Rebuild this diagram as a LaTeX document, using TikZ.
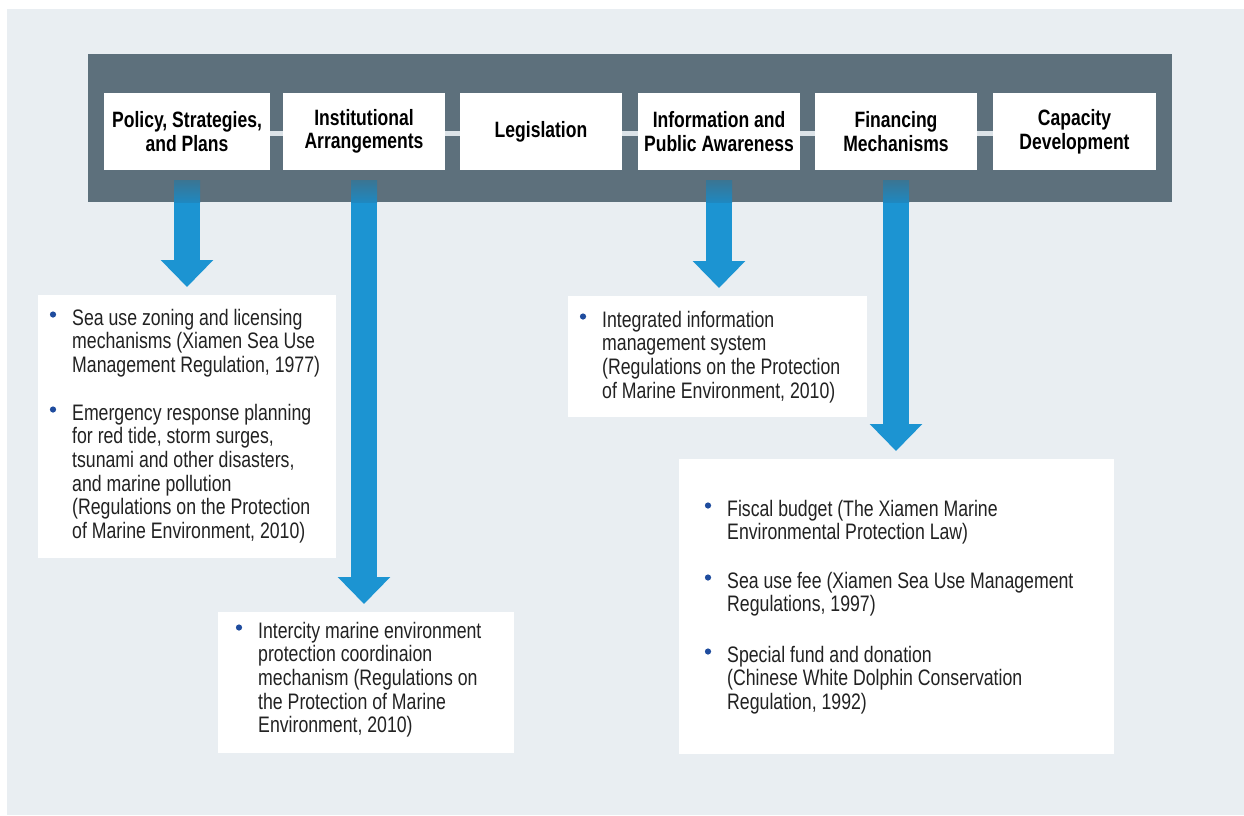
\documentclass[tikz,border=0pt]{standalone}
\usepackage{fontspec}
\setmainfont{Liberation Sans}[FakeStretch=0.79]
\usetikzlibrary{arrows.meta}
\definecolor{bgc}{HTML}{E9EEF2}
\definecolor{bandc}{HTML}{5D707C}
\definecolor{arrc}{HTML}{1C94D2}
\definecolor{arrtop}{HTML}{3A7593}
\definecolor{arrbot}{HTML}{1F88C0}
\definecolor{bulc}{HTML}{1F4C9E}
\definecolor{txtc}{HTML}{222222}
\definecolor{connc}{HTML}{DCE3E8}
\begin{document}
\begin{tikzpicture}[x=1pt,y=-1pt,
 titlebox/.style={fill=white, minimum width=#1, minimum height=77pt, inner sep=0pt, align=center,
   font=\bfseries\fontsize{22.2}{23.6}\selectfont, text=black},
 infobox/.style={fill=white, inner sep=0pt, anchor=north west},
 item/.style={anchor=north west, inner sep=0pt, align=left, font=\fontsize{22.4}{23.6}\selectfont, text=txtc},
 linkbar/.style={draw=connc, line width=5pt},
 bigarrow/.style={draw=arrc, line width=26pt, -{Triangle[width=51pt,length=27pt]}},
 bandpart/.style={top color=arrtop, bottom color=arrbot},
 bul/.style={fill=bulc},
]
\useasboundingbox (0,0) rectangle (1244,815);
\fill[white] (0,0) rectangle (1244,815);
\fill[bgc] (7,9) rectangle (1244,815);

% band
\node[fill=bandc, minimum width=1084pt, minimum height=148pt, inner sep=0pt] (band) at (630,128) {};

% title boxes
\node[titlebox=166pt] (t1) at (187,131.5) {Policy, Strategies,\\and Plans};
\node[titlebox=162pt] (t2) at (364,131.5) {Institutional\\Arrangements};
\node[titlebox=162pt] (t3) at (541,131.5) {Legislation};
\node[titlebox=162pt] (t4) at (719,131.5) {Information and\\Public Awareness};
\node[titlebox=162pt] (t5) at (896,131.5) {Financing\\Mechanisms};
\node[titlebox=163pt] (t6) at (1074.5,131.5) {Capacity\\Development\vphantom{y}};

% links between title boxes
\draw[linkbar] ([yshift=-2pt]t1.east) -- ([yshift=-2pt]t2.west);
\draw[linkbar] ([yshift=-2pt]t2.east) -- ([yshift=-2pt]t3.west);
\draw[linkbar] ([yshift=-2pt]t3.east) -- ([yshift=-2pt]t4.west);
\draw[linkbar] ([yshift=-2pt]t4.east) -- ([yshift=-2pt]t5.west);
\draw[linkbar] ([yshift=-2pt]t5.east) -- ([yshift=-2pt]t6.west);

% info boxes
\node[infobox, minimum width=298pt, minimum height=263pt] (bA) at (38,295) {};
\node[infobox, minimum width=299pt, minimum height=121pt] (bB) at (568,296) {};
\node[infobox, minimum width=296pt, minimum height=141pt] (bC) at (218,612) {};
\node[infobox, minimum width=435pt, minimum height=295pt] (bD) at (679,459) {};

% arrows
\draw[bigarrow] ([yshift=-10pt]t1.south) -- ([yshift=8pt]t1.south |- bA.north);
\draw[bigarrow] ([yshift=-10pt]t2.south) -- ([yshift=8pt]t2.south |- bC.north);
\draw[bigarrow] ([yshift=-10pt]t4.south) -- ([yshift=8pt]t4.south |- bB.north);
\draw[bigarrow] ([yshift=-10pt]t5.south) -- ([yshift=8pt]t5.south |- bD.north);
\foreach \t in {t1,t2,t4,t5}{
  \shade[bandpart] ([xshift=-13pt,yshift=-10pt]\t.south) rectangle ([xshift=13pt]\t.south |- band.south);
}

% items
\node[item] (iA1) at (72,307) {\vrule height 18pt width 0pt Sea use zoning and licensing\\mechanisms (Xiamen Sea Use\\Management Regulation, 1977)};
\node[item] (iA2) at (72,402) {\vrule height 18pt width 0pt Emergency response planning\\for red tide, storm surges,\\tsunami and other disasters,\\and marine pollution\\(Regulations on the Protection\\of Marine Environment, 2010)};
\node[item] (iB1) at (602,309) {\vrule height 18pt width 0pt Integrated information\\management system\\(Regulations on the Protection\\of Marine Environment, 2010)};
\node[item] (iC1) at (258,620) {\vrule height 18pt width 0pt Intercity marine environment\\protection coordinaion\\mechanism (Regulations on\\the Protection of Marine\\Environment, 2010)};
\node[item] (iD1) at (727,498) {\vrule height 18pt width 0pt Fiscal budget (The Xiamen Marine\\Environmental Protection Law)};
\node[item] (iD2) at (727,570) {\vrule height 18pt width 0pt Sea use fee (Xiamen Sea Use Management\\Regulations, 1997)};
\node[item] (iD3) at (727,644) {\vrule height 18pt width 0pt Special fund and donation\\(Chinese White Dolphin Conservation\\Regulation, 1992)};

% bullets
\foreach \i in {iA1,iA2,iB1,iC1,iD1,iD2,iD3}{
  \fill[bul] ([xshift=-19pt,yshift=-7.5pt]\i.north west) circle (3.1pt);
}
\end{tikzpicture}
\end{document}
